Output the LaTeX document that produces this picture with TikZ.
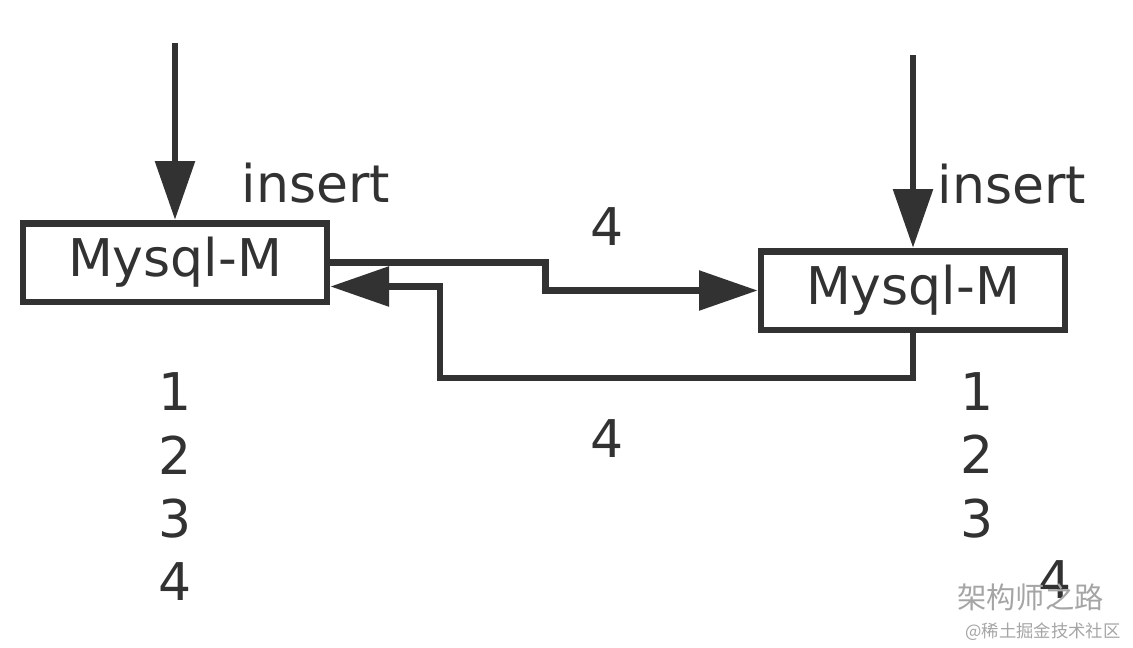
\documentclass[tikz,border=0pt]{standalone}
\usepackage{fontspec}
\setmainfont{DejaVu Sans}
\newfontfamily\cjk{Noto Sans CJK SC}
\usepackage{tikz}
\usetikzlibrary{arrows.meta}
\definecolor{ink}{RGB}{50,50,50}
\definecolor{mark}{RGB}{165,165,165}

\tikzset{
  mysqlbox/.style={draw=ink,line width=5pt,minimum width=228pt,minimum height=59pt,inner sep=0pt,font=\fontsize{39}{40}\selectfont,text=ink},
  flow/.style={draw=ink,line width=5pt,-{Triangle[length=44pt,width=29pt]}},
  lbl/.style={anchor=base,inner sep=0.75pt,font=\fontsize{39}{40}\selectfont,text=ink}
}

\begin{document}
\begin{tikzpicture}[x=0.75pt,y=0.75pt,yscale=-1,xscale=1]
\useasboundingbox (0,0) rectangle (1133,647);

% Boxes
\node [mysqlbox] (mysqlA) at (175,262.5) {Mysql-M};
\node [mysqlbox] (mysqlB) at (913,290.5) {Mysql-M};

% Free ends
\coordinate (inA) at (175,43);
\coordinate (inB) at (913,55);
\coordinate (turn) at (440,378);

%Straight Lines
\draw [flow] (inA) -- (mysqlA);
\draw [flow] (inB) -- (mysqlB);
%Connectors
\draw [flow] (mysqlA.east) -- ++(215,0) |- (mysqlB.west);
\draw [flow] (mysqlB.south) |- (turn) |- ([yshift=18pt]mysqlA.east);

% Text Node
\node [lbl] (insA) at (316,202) {insert};
% Text Node
\node [lbl] (insB) at (1012,203) {insert};
% Text Node
\node [lbl] (fwd) at (607,245) {4};
% Text Node
\node [lbl] (bwd) at (607,457) {4};
% Text Node
\node [lbl] (a1) at (175,410) {1};
\node [lbl] (a2) at (175,474) {2};
\node [lbl] (a3) at (175,537) {3};
\node [lbl] (a4) at (175,600) {4};
% Text Node
\node [lbl] (b1) at (977,410) {1};
\node [lbl] (b2) at (977,473) {2};
\node [lbl] (b3) at (977,537) {3};
\node [lbl] (b4) at (1055,598) {4};

% Watermark
\node [anchor=base west,inner sep=0pt,text=mark,font=\cjk\fontsize{22}{24}\selectfont] (wm) at (957,608) {架构师之路};
\node [anchor=base west,inner sep=0pt,text=mark,font=\cjk\fontsize{13}{14}\selectfont] (wm2) at (965,637) {@稀土掘金技术社区};

\end{tikzpicture}
\end{document}
